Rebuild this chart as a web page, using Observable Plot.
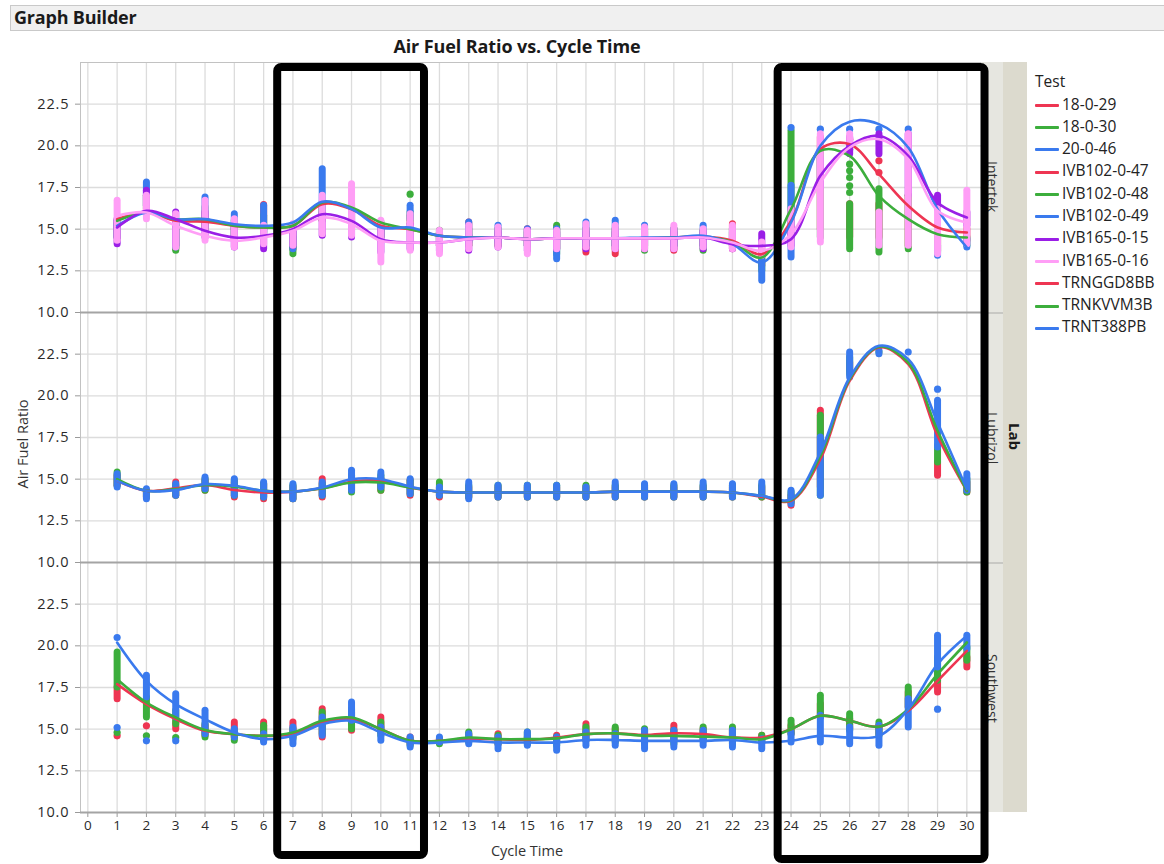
<!DOCTYPE html>
<html><head><meta charset="utf-8">
<script src="https://cdn.jsdelivr.net/npm/d3@7"></script>
<script src="https://cdn.jsdelivr.net/npm/@observablehq/plot@0.6"></script>
<style>
body{margin:0;background:#fff;font-family:"Open Sans","Noto Sans",sans-serif;color:#1a1a1a;}
#wrap{position:relative;width:1164px;height:864px;overflow:hidden;background:#fff;}
.abs{position:absolute;}
#header{left:10px;top:5px;width:1160px;height:26px;background:#f0f0f0;border:1px solid #c9c9c9;box-sizing:border-box;font-weight:bold;font-size:18px;line-height:23px;padding-left:3px;letter-spacing:-0.2px;}
#title{left:0;width:1034px;top:34px;text-align:center;font-weight:bold;font-size:18px;letter-spacing:-0.1px;}
.narrow{font-family:"Liberation Sans Narrow","Arial Narrow","Open Sans",sans-serif;font-size:14.5px;color:#333;}
.strip{background:#e6e6e0;}
.labstrip{background:#dcdace;}
.vtext{writing-mode:vertical-rl;display:flex;align-items:center;justify-content:center;}
.leg{font-size:15.5px;color:#222;white-space:nowrap;}
.legline{display:inline-block;width:24px;height:3px;vertical-align:middle;margin-right:3px;border-radius:1px;}
</style></head>
<body><div id="wrap">
<div id="header" class="abs">Graph Builder</div>
<div id="title" class="abs">Air Fuel Ratio vs. Cycle Time</div>
</div>
<script>
// ---------------- data ----------------
const cycles = [1,2,3,4,5,6,7,8,9,10,11,12,13,14,15,16,17,18,19,20,21,22,23,24,25,26,27,28,29,30];
const xTicks = [0,1,2,3,4,5,6,7,8,9,10,11,12,13,14,15,16,17,18,19,20,21,22,23,24,25,26,27,28,29,30];
const yTicks = [10,12.5,15,17.5,20,22.5];
const labs = ["Intertek","Lubrizol","Southwest"];
const tests = ["18-0-29","18-0-30","20-0-46","IVB102-0-47","IVB102-0-48","IVB102-0-49","IVB165-0-15","IVB165-0-16","TRNGGD8BB","TRNKVVM3B","TRNT388PB"];
const testLab = ["Lubrizol","Lubrizol","Lubrizol","Intertek","Intertek","Intertek","Intertek","Intertek","Southwest","Southwest","Southwest"];
const testColors = ["#ee3552","#3cae3c","#3a7aee","#ee3552","#3cae3c","#3a7aee","#9a1ee6","#ff9ef6","#ee3552","#3cae3c","#3a7aee"];

// smoother (fit line) values per test at each cycle time
const curve_18_0_29 = [14.9,14.3,14.45,14.65,14.35,14.2,14.25,14.45,14.85,14.9,14.5,14.25,14.2,14.2,14.2,14.2,14.2,14.25,14.25,14.25,14.25,14.2,13.95,13.7,16.2,20.9,22.9,21.9,17.6,14.3];
const curve_18_0_30 = [15.0,14.3,14.4,14.65,14.55,14.3,14.25,14.45,14.8,14.8,14.5,14.25,14.2,14.2,14.2,14.2,14.2,14.25,14.25,14.25,14.25,14.2,14.0,13.75,16.4,21.0,22.95,22.0,17.9,14.3];
const curve_20_0_46 = [14.9,14.3,14.35,14.7,14.6,14.3,14.25,14.5,15.0,15.0,14.55,14.25,14.2,14.2,14.2,14.2,14.2,14.25,14.25,14.25,14.25,14.2,14.0,13.8,16.6,21.1,23.0,22.2,18.4,14.4];
const curve_IVB102_0_47 = [15.6,16.0,15.5,15.45,15.2,15.1,15.2,16.5,16.2,15.2,15.0,14.6,14.5,14.5,14.4,14.45,14.45,14.45,14.45,14.5,14.55,14.3,13.5,15.5,19.8,20.1,18.3,16.4,15.1,14.8];
const curve_IVB102_0_48 = [15.5,16.0,15.6,15.6,15.2,15.1,15.2,16.6,16.3,15.4,15.0,14.6,14.5,14.5,14.4,14.45,14.45,14.45,14.45,14.5,14.55,14.2,13.3,16.2,19.7,19.4,17.0,15.6,14.7,14.5];
const curve_IVB102_0_49 = [15.2,16.0,15.6,15.6,15.3,15.2,15.4,16.65,16.2,15.1,15.1,14.6,14.5,14.5,14.4,14.45,14.45,14.45,14.5,14.5,14.6,14.1,13.0,15.4,20.0,21.45,21.3,19.9,16.2,13.9];
const curve_IVB165_0_15 = [15.1,16.1,15.6,14.9,14.5,14.6,15.0,15.9,15.5,14.4,14.2,14.2,14.4,14.5,14.4,14.45,14.45,14.45,14.45,14.45,14.5,14.1,14.0,14.4,18.2,20.0,20.6,19.4,16.6,15.7];
const curve_IVB165_0_16 = [15.8,16.0,15.2,14.6,14.3,14.5,14.9,15.7,15.3,14.3,14.2,14.2,14.4,14.5,14.4,14.45,14.45,14.45,14.45,14.45,14.5,14.2,13.7,14.7,17.8,19.9,20.4,19.2,16.1,15.4];
const curve_TRNGGD8BB = [17.7,16.5,15.6,14.9,14.7,14.6,14.7,15.4,15.6,15.0,14.3,14.3,14.4,14.4,14.35,14.5,14.7,14.75,14.65,14.75,14.7,14.5,14.5,15.0,15.8,15.5,15.15,16.1,17.9,19.7];
const curve_TRNKVVM3B = [18.0,16.6,15.7,14.95,14.7,14.6,14.8,15.5,15.7,15.0,14.3,14.3,14.5,14.4,14.4,14.45,14.7,14.75,14.6,14.6,14.55,14.5,14.4,15.0,15.8,15.5,15.15,16.2,18.3,20.2];
const curve_TRNT388PB = [20.2,17.9,16.5,15.6,14.8,14.4,14.6,15.3,15.5,14.8,14.2,14.2,14.3,14.2,14.2,14.2,14.35,14.35,14.3,14.3,14.3,14.35,14.2,14.3,14.6,14.5,14.6,16.2,18.9,20.6];

// observed point stacks: lowest and highest reading at each cycle time
const lo_18_0_29 = [14.6,13.9,14.0,14.3,13.9,13.8,13.8,13.9,14.3,14.3,14.0,13.9,13.9,13.9,13.9,13.9,13.9,13.9,13.9,13.9,13.9,13.9,13.9,13.4,14.5,21.5,null,null,15.2,14.2];
const hi_18_0_29 = [15.2,14.2,14.8,14.9,14.8,14.7,14.5,15.0,15.0,15.0,14.9,14.5,14.5,14.5,14.5,14.5,14.5,14.5,14.5,14.5,14.5,14.5,14.5,14.0,19.1,22.0,null,null,16.0,14.8];
const lo_18_0_30 = [14.6,13.9,14.0,14.3,14.0,13.9,13.8,14.0,14.2,14.3,14.1,14.0,13.9,13.9,13.9,13.9,13.9,13.9,13.9,13.9,13.9,13.9,13.9,13.6,14.0,21.3,22.6,null,16.0,14.2];
const hi_18_0_30 = [15.4,14.3,14.6,15.0,14.9,14.7,14.6,14.7,15.2,15.2,14.9,14.8,14.6,14.6,14.6,14.6,14.6,14.6,14.6,14.6,14.6,14.6,14.6,14.2,18.8,22.3,22.6,null,17.0,15.0];
const lo_20_0_46 = [14.5,13.8,14.0,14.4,14.0,13.9,13.8,14.0,14.3,14.5,14.1,14.0,13.8,13.9,13.9,13.9,13.9,13.9,13.9,13.9,13.9,13.9,14.0,13.5,14.0,21.1,22.5,22.6,16.9,14.3];
const hi_20_0_46 = [15.3,14.4,14.7,15.1,15.0,14.8,14.7,14.8,15.5,15.4,15.0,14.5,14.8,14.6,14.6,14.6,14.5,14.8,14.7,14.7,14.8,14.7,14.8,14.3,17.5,22.6,22.7,22.6,19.7,15.3];
const lo_IVB102_0_47 = [14.5,16.0,13.8,15.0,14.3,15.0,13.8,15.5,15.5,14.5,15.3,14.0,14.0,14.0,14.0,13.8,13.6,13.5,14.0,13.7,14.0,13.8,12.8,14.5,15.0,14.5,14.5,14.0,13.7,14.3];
const hi_IVB102_0_47 = [15.5,17.0,15.3,16.0,15.3,16.45,14.8,16.5,16.5,15.2,15.8,14.8,15.4,15.0,15.0,15.0,15.0,15.0,15.0,15.0,14.9,15.3,13.8,16.2,20.5,16.5,16.5,17.0,14.5,15.0];
const lo_IVB102_0_48 = [14.5,16.2,13.7,15.0,14.5,14.5,13.5,15.5,15.5,14.5,15.5,14.0,14.0,14.0,14.0,13.5,14.0,14.0,13.7,14.0,13.7,14.0,12.5,16.2,14.5,13.8,13.6,13.8,13.6,14.0];
const hi_IVB102_0_48 = [15.3,17.0,15.2,16.3,15.5,15.8,14.5,16.5,16.3,15.4,16.0,14.9,15.0,15.0,14.8,15.2,15.0,15.0,15.0,15.0,14.9,15.0,13.5,20.9,19.5,16.5,17.4,17.0,14.5,14.5];
const lo_IVB102_0_49 = [14.5,16.4,13.9,15.4,14.5,14.8,13.8,15.8,15.5,14.5,15.6,14.0,14.2,14.2,14.0,13.2,14.0,14.0,14.0,14.0,14.0,14.0,11.9,13.3,null,null,null,null,13.4,13.9];
const hi_IVB102_0_49 = [15.5,17.8,15.5,16.9,15.9,16.4,15.0,18.6,16.3,15.2,16.4,14.8,15.4,15.2,15.0,15.0,15.4,15.5,15.2,15.0,15.2,15.0,13.1,17.6,null,null,null,null,14.0,14.4];
const lo_IVB165_0_15 = [14.1,16.4,14.0,14.5,13.9,13.8,14.0,14.6,14.5,13.6,13.8,13.7,13.7,13.9,13.7,13.8,13.8,13.8,13.8,13.8,13.8,13.8,13.9,14.0,17.5,19.5,19.5,17.0,16.2,15.2];
const hi_IVB165_0_15 = [15.6,17.3,16.0,16.0,15.3,15.0,15.0,16.0,16.2,15.0,15.3,14.6,14.6,14.8,14.9,14.8,14.8,14.8,14.8,14.8,14.8,14.8,14.7,15.0,19.2,20.5,20.7,20.7,17.0,16.0];
const lo_IVB165_0_16 = [14.3,15.6,13.9,14.3,13.9,14.1,14.0,14.7,14.6,13.0,13.7,13.5,13.8,13.9,13.5,13.8,13.9,13.8,13.8,13.8,13.9,13.8,13.4,13.9,14.2,20.2,14.0,14.0,13.5,14.1];
const hi_IVB165_0_16 = [16.7,17.0,15.9,16.7,15.6,15.2,15.3,17.0,17.7,15.5,15.9,14.9,15.2,15.1,14.9,14.9,15.3,15.2,15.1,15.2,15.0,15.2,14.2,16.2,20.7,20.7,16.0,20.7,16.2,17.3];
const lo_TRNGGD8BB = [16.8,null,15.0,14.6,14.5,14.4,14.5,14.5,14.9,14.8,14.1,14.2,14.3,14.1,14.2,14.2,14.3,14.3,14.3,14.3,14.3,14.3,14.2,14.7,15.7,15.0,14.7,16.3,17.2,18.7];
const hi_TRNGGD8BB = [17.5,null,15.4,15.2,15.4,15.4,15.4,16.2,16.0,15.7,14.5,14.4,14.7,14.7,14.5,14.6,15.3,15.0,14.9,15.2,15.0,15.0,14.6,15.2,16.5,15.6,15.2,17.2,18.3,19.3];
const lo_TRNKVVM3B = [17.5,15.7,15.3,14.5,14.3,14.3,14.4,14.7,15.0,14.6,14.0,14.1,14.2,14.1,14.1,14.0,14.3,14.2,14.1,14.1,14.3,14.1,14.2,14.7,15.7,14.9,14.6,16.3,17.9,19.1];
const hi_TRNKVVM3B = [19.6,16.9,16.1,15.3,14.9,15.2,15.0,16.0,16.2,15.4,14.4,14.4,14.8,14.6,14.8,14.5,15.1,15.1,15.0,14.9,15.1,15.1,14.6,15.5,17.0,15.9,15.4,17.5,19.3,19.9];
const lo_TRNT388PB = [null,16.9,15.7,14.7,14.5,14.2,14.1,14.6,15.5,14.3,13.9,14.2,14.1,13.8,14.0,13.7,14.0,14.0,13.8,13.9,14.0,13.9,13.8,14.2,14.2,14.1,14.0,15.1,18.7,19.8];
const hi_TRNT388PB = [null,18.2,17.1,16.1,15.0,14.7,15.1,15.7,16.6,15.1,14.5,14.5,14.7,14.5,14.8,14.5,14.8,14.7,14.9,14.9,14.9,14.9,14.4,14.8,15.8,15.1,15.2,16.8,20.6,20.6];

// isolated single readings
const extraTest = ["20-0-46","IVB102-0-47","IVB102-0-47","IVB102-0-47","IVB102-0-48","IVB102-0-48","IVB102-0-48","IVB102-0-48","IVB102-0-48","IVB102-0-48","IVB102-0-48","IVB102-0-49","IVB102-0-49","IVB102-0-49","IVB102-0-49","IVB102-0-49","TRNGGD8BB","TRNGGD8BB","TRNKVVM3B","TRNKVVM3B","TRNKVVM3B","TRNT388PB","TRNT388PB","TRNT388PB","TRNT388PB","TRNT388PB"];
const extraX    = [29, 26, 27, 27, 11, 26, 26, 26, 26, 26, 26, 24, 25, 26, 27, 28, 1, 2, 1, 2, 3, 1, 1, 2, 3, 29];
const extraY    = [20.4, 20.4, 19.1, 18.4, 17.1, 19.8, 18.9, 18.5, 18.1, 17.6, 17.2, 21.1, 21.0, 21.0, 21.0, 21.0, 14.6, 15.2, 14.8, 14.6, 14.5, 20.5, 15.1, 14.3, 14.3, 16.2];

// annotation boxes drawn over the chart (x in cycle time, y in page pixels)
const boxX1 = [6.48, 23.56];
const boxX2 = [11.49, 30.62];
const boxTop = [67, 67];
const boxBottom = [855, 859];

// ---------------- build ----------------
const curves = [curve_18_0_29,curve_18_0_30,curve_20_0_46,curve_IVB102_0_47,curve_IVB102_0_48,curve_IVB102_0_49,curve_IVB165_0_15,curve_IVB165_0_16,curve_TRNGGD8BB,curve_TRNKVVM3B,curve_TRNT388PB];
const los = [lo_18_0_29,lo_18_0_30,lo_20_0_46,lo_IVB102_0_47,lo_IVB102_0_48,lo_IVB102_0_49,lo_IVB165_0_15,lo_IVB165_0_16,lo_TRNGGD8BB,lo_TRNKVVM3B,lo_TRNT388PB];
const his = [hi_18_0_29,hi_18_0_30,hi_20_0_46,hi_IVB102_0_47,hi_IVB102_0_48,hi_IVB102_0_49,hi_IVB165_0_15,hi_IVB165_0_16,hi_TRNGGD8BB,hi_TRNKVVM3B,hi_TRNT388PB];

const lineRows = [], rangeRows = [], dotRows = [];
tests.forEach((t, i) => {
  curves[i].forEach((v, j) => { if (v != null) lineRows.push({test: t, lab: testLab[i], x: cycles[j], y: v}); });
  los[i].forEach((lo, j) => { const hi = his[i][j]; if (lo != null && hi != null) rangeRows.push({test: t, lab: testLab[i], x: cycles[j], lo, hi}); });
});
extraTest.forEach((t, k) => dotRows.push({test: t, lab: testLab[tests.indexOf(t)], x: extraX[k], y: extraY[k]}));
const boxes = boxX1.map((x1, i) => ({x1, x2: boxX2[i], top: boxTop[i], bottom: boxBottom[i]}));

const W = 1031, ML = 80, MR = 50, MT = 6, MB = 30, PANEL = 250;
const xDomain = [-0.25, 30.5];
const gridColor = "#dcdcdc";

const marks = [
  Plot.ruleY(yTicks.slice(1), {stroke: gridColor, strokeWidth: 1.3}),
  Plot.ruleX(xTicks, {stroke: gridColor, strokeWidth: 1.3}),
  Plot.frame({stroke: "#c2c2c2"}),
  Plot.ruleY([yTicks[0]], {stroke: "#a4a4a4", strokeWidth: 2.2})
];
tests.forEach(t => {
  marks.push(Plot.ruleX(rangeRows.filter(d => d.test === t), {x: "x", y1: "lo", y2: "hi", stroke: "test", strokeWidth: 7, strokeLinecap: "round", fy: "lab"}));
  marks.push(Plot.dot(dotRows.filter(d => d.test === t), {x: "x", y: "y", fill: "test", r: 3.6, fy: "lab"}));
});
marks.push(Plot.line(lineRows, {x: "x", y: "y", z: "test", stroke: "test", strokeWidth: 2.6, curve: "catmull-rom", fy: "lab"}));

const plot = Plot.plot({
  width: W, height: MT + MB + PANEL * labs.length,
  marginLeft: ML, marginRight: MR, marginTop: MT, marginBottom: MB,
  style: {background: "transparent", fontFamily: "'Open Sans','Noto Sans',sans-serif", fontSize: "13.5px", color: "#2a2a2a"},
  x: {domain: xDomain, ticks: xTicks, tickFormat: d3.format("d"), tickSize: 5, tickPadding: 3, label: null},
  y: {domain: [10, 25], ticks: yTicks, tickFormat: d3.format(".1f"), tickSize: 5, tickPadding: 6, label: null},
  fy: {domain: labs, axis: null, padding: 0},
  color: {domain: tests, range: testColors},
  marks
});
plot.style.position = "absolute";
plot.style.left = "0px";
plot.style.top = (62 - MT) + "px";
const wrap = document.getElementById("wrap");
wrap.appendChild(plot);
// gray tick marks, slightly larger spaced y tick labels
d3.select(plot).selectAll('g[aria-label$="axis tick"] path').attr("stroke", "#9a9a9a");
d3.select(plot).selectAll('g[aria-label="y-axis tick label"]').attr("font-size", "14.5px").attr("letter-spacing", "0.9px");

// facet strips
const top0 = 62, frameRight = W - MR;
const strip = document.createElement("div");
strip.className = "abs strip";
Object.assign(strip.style, {left: frameRight + "px", top: top0 + "px", width: "22px", height: (PANEL * labs.length) + "px"});
wrap.appendChild(strip);
labs.forEach((lab, i) => {
  const d = document.createElement("div");
  d.className = "abs vtext";
  Object.assign(d.style, {left: frameRight + "px", top: (top0 + i * PANEL) + "px", width: "22px", height: PANEL + "px",
    fontSize: "14px", color: "#333", borderTop: i ? "2px solid #c8c8c4" : "none", boxSizing: "border-box"});
  d.textContent = lab;
  wrap.appendChild(d);
});
const labStrip = document.createElement("div");
labStrip.className = "abs labstrip vtext";
Object.assign(labStrip.style, {left: (frameRight + 22) + "px", top: top0 + "px", width: "24px", height: (PANEL * labs.length) + "px", fontWeight: "bold", fontSize: "15px"});
labStrip.textContent = "Lab";
wrap.appendChild(labStrip);

// axis titles
const yl = document.createElement("div");
yl.className = "abs narrow";
Object.assign(yl.style, {left: "22px", top: "444px", transform: "translate(-50%,-50%) rotate(-90deg)", whiteSpace: "nowrap"});
yl.textContent = "Air Fuel Ratio";
wrap.appendChild(yl);
const xl = document.createElement("div");
xl.className = "abs narrow";
Object.assign(xl.style, {left: "527px", top: "850px", transform: "translate(-50%,-50%)", whiteSpace: "nowrap"});
xl.textContent = "Cycle Time";
wrap.appendChild(xl);

// legend
const lg = document.createElement("div");
lg.className = "abs leg";
Object.assign(lg.style, {left: "1035px", top: "70px"});
let html = '<div style="height:22.5px;line-height:22px">Test</div>';
tests.forEach((t, i) => {
  html += `<div style="height:22.3px;line-height:22px"><span class="legline" style="background:${testColors[i]}"></span>${t}</div>`;
});
lg.innerHTML = html;
wrap.appendChild(lg);

// annotation overlay
const overlay = Plot.plot({
  width: W, height: 864, marginLeft: ML, marginRight: MR, marginTop: 0, marginBottom: 0,
  style: {background: "transparent"},
  x: {domain: xDomain, axis: null},
  y: {domain: [0, 864], range: [0, 864], axis: null},
  marks: [Plot.rect(boxes, {x1: "x1", x2: "x2", y1: "top", y2: "bottom", stroke: "#000", strokeWidth: 8, fill: "none", rx: 4})]
});
Object.assign(overlay.style, {position: "absolute", left: "0px", top: "0px", pointerEvents: "none"});
wrap.appendChild(overlay);
</script>
</body></html>
